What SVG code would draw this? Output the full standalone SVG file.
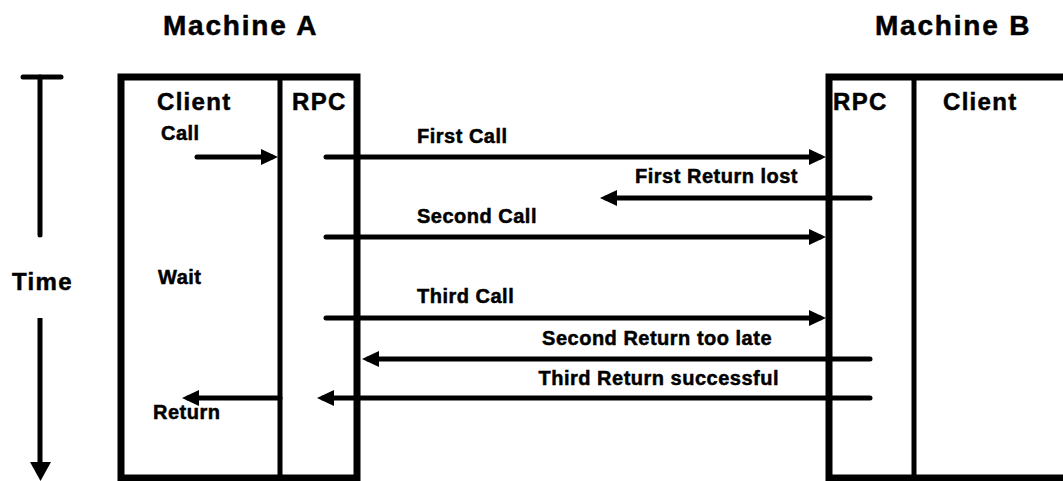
<svg xmlns="http://www.w3.org/2000/svg" width="1063" height="481" viewBox="0 0 1063 481">
  <style>
    text { font-family: "Liberation Sans", Arial, sans-serif; font-weight: bold; fill: #000; stroke: #000; stroke-width: 0.5; }
    .title { font-size: 28px; letter-spacing: 1.8px; }
    .head { font-size: 24px; letter-spacing: 1.3px; }
    .lbl { font-size: 20px; letter-spacing: 0.5px; }
    .wall { fill: none; stroke: #000; stroke-width: 7; }
    .div { fill: none; stroke: #000; stroke-width: 5; }
    .msg { fill: none; stroke: #000; stroke-width: 5; stroke-linecap: round; marker-end: url(#head); }
    .axis { fill: none; stroke: #000; stroke-width: 5; stroke-linecap: round; }
  </style>
  <defs>
    <marker id="head" markerUnits="userSpaceOnUse" viewBox="0 0 17 16" refX="11" refY="8" markerWidth="17" markerHeight="16" orient="auto">
      <path d="M0,0 L17,8 L0,16 Z" fill="#000"/>
    </marker>
  </defs>

  <rect width="1063" height="481" fill="#fff"/>

  <!-- Time axis -->
  <g id="time-axis">
    <line class="axis" x1="23" y1="77" x2="61" y2="77"/>
    <line class="axis" x1="40" y1="77" x2="40" y2="235"/>
    <line class="axis" x1="40" y1="318" x2="40" y2="465" style="stroke-linecap:butt"/>
    <path d="M30,462 L51,462 L40.5,481 Z" fill="#000"/>
    <text class="head" x="12" y="290">Time</text>
  </g>

  <!-- Machine A -->
  <g id="machine-a">
    <text class="title" x="163" y="35">Machine A</text>
    <rect class="wall" x="121" y="77" width="236" height="401"/>
    <line class="div" x1="280" y1="77" x2="280" y2="478"/>
    <text class="head" x="157" y="110">Client</text>
    <text class="head" x="292" y="110">RPC</text>
    <text class="lbl" x="161" y="140">Call</text>
    <text class="lbl" x="158" y="284">Wait</text>
    <text class="lbl" x="153" y="419">Return</text>
  </g>

  <!-- Machine B -->
  <g id="machine-b">
    <text class="title" x="875" y="35">Machine B</text>
    <path class="wall" d="M1066,77 H829 V478 H1066"/>
    <line class="div" x1="914" y1="77" x2="914" y2="478"/>
    <text class="head" x="833" y="110">RPC</text>
    <text class="head" x="943" y="110">Client</text>
  </g>

  <!-- Messages -->
  <g id="connectors">
    <line class="msg" x1="197" y1="157" x2="272" y2="157"/>
    <line class="msg" x1="326" y1="157" x2="820" y2="157"/>
    <line class="msg" x1="870" y1="198" x2="606" y2="198"/>
    <line class="msg" x1="326" y1="237" x2="820" y2="237"/>
    <line class="msg" x1="326" y1="318" x2="820" y2="318"/>
    <line class="msg" x1="870" y1="359" x2="368" y2="359"/>
    <line class="msg" x1="870" y1="398" x2="323" y2="398"/>
    <line class="msg" x1="280" y1="398" x2="188" y2="398"/>
  </g>

  <!-- Message labels -->
  <g id="labels">
    <text class="lbl" x="417" y="143">First Call</text>
    <text class="lbl" x="798" y="183" text-anchor="end">First Return lost</text>
    <text class="lbl" x="417" y="223">Second Call</text>
    <text class="lbl" x="417" y="303">Third Call</text>
    <text class="lbl" x="772" y="345" text-anchor="end">Second Return too late</text>
    <text class="lbl" x="779" y="385" text-anchor="end">Third Return successful</text>
  </g>
</svg>
